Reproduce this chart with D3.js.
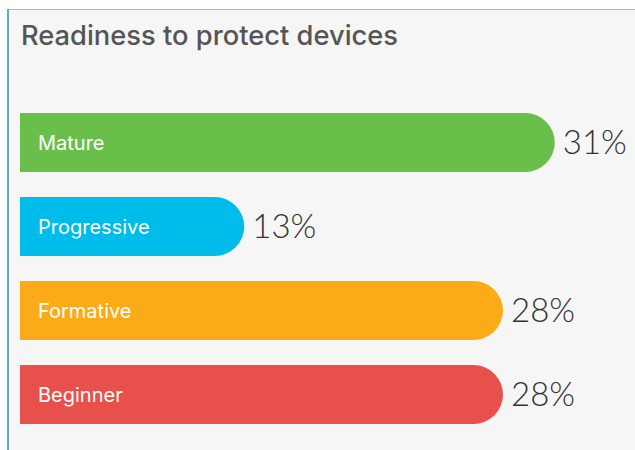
<!DOCTYPE html>
<html>
<head>
<meta charset="utf-8">
<script src="https://cdn.jsdelivr.net/npm/d3@7/dist/d3.min.js"></script>
<style>
  html, body { margin: 0; padding: 0; background: #ffffff; }
  svg { display: block; }
</style>
</head>
<body>
<svg id="chart" width="635" height="450"></svg>
<script>
// Readiness categories and their shares (percent)
const categories = ["Mature", "Progressive", "Formative", "Beginner"];
const values = [31, 13, 28, 28];
const colors = ["#6abf4b", "#00bceb", "#fbab18", "#e8504b"];
const title = "Readiness to protect devices";

const svg = d3.select("#chart");
const W = 635, H = 450;

// Panel background with its left and top borders
svg.append("rect")
  .attr("x", 8).attr("y", 9).attr("width", W).attr("height", H)
  .attr("fill", "#f6f6f6");
svg.append("line")
  .attr("x1", 8).attr("x2", W).attr("y1", 9.5).attr("y2", 9.5)
  .attr("stroke", "#9dbde3").attr("stroke-width", 1);
svg.append("line")
  .attr("x1", 8).attr("x2", 8).attr("y1", 9).attr("y2", H)
  .attr("stroke", "#6a9fd6").attr("stroke-width", 2);

svg.append("text")
  .attr("x", 21).attr("y", 45)
  .attr("font-family", "Inter, 'Open Sans', sans-serif")
  .attr("font-size", 27.3).attr("font-weight", 500)
  .attr("fill", "#555555")
  .text(title);

const x0 = 20;
const x = d3.scaleLinear().domain([0, 100]).range([0, 1725]);
const y = d3.scaleBand().domain(categories).range([113, 424]).paddingInner(25 / 84).paddingOuter(0);

// Bar with square left end and fully rounded right end
function barPath(w, h) {
  const r = h / 2;
  const p = d3.path();
  p.moveTo(0, 0);
  p.lineTo(w - r, 0);
  p.arc(w - r, r, r, -Math.PI / 2, Math.PI / 2);
  p.lineTo(0, h);
  p.closePath();
  return p.toString();
}

const rows = svg.selectAll("g.row")
  .data(categories.map((c, i) => ({ c, v: values[i], col: colors[i] })))
  .join("g")
  .attr("class", "row")
  .attr("transform", d => `translate(${x0},${y(d.c)})`);

rows.append("path")
  .attr("d", d => barPath(x(d.v), y.bandwidth()))
  .attr("fill", d => d.col);

rows.append("text")
  .attr("x", 18).attr("y", y.bandwidth() / 2)
  .attr("dy", "0.35em")
  .attr("font-family", "Inter, 'Open Sans', sans-serif")
  .attr("font-size", 20)
  .attr("fill", "#ffffff")
  .text(d => d.c);

rows.append("text")
  .attr("x", d => x(d.v) + 8).attr("y", y.bandwidth() / 2)
  .attr("dy", "0.36em")
  .attr("font-family", "Lato, 'Open Sans', sans-serif")
  .attr("font-size", 33).attr("font-weight", 300)
  .attr("fill", "#333333")
  .text(d => d.v + "%");
</script>
</body>
</html>
